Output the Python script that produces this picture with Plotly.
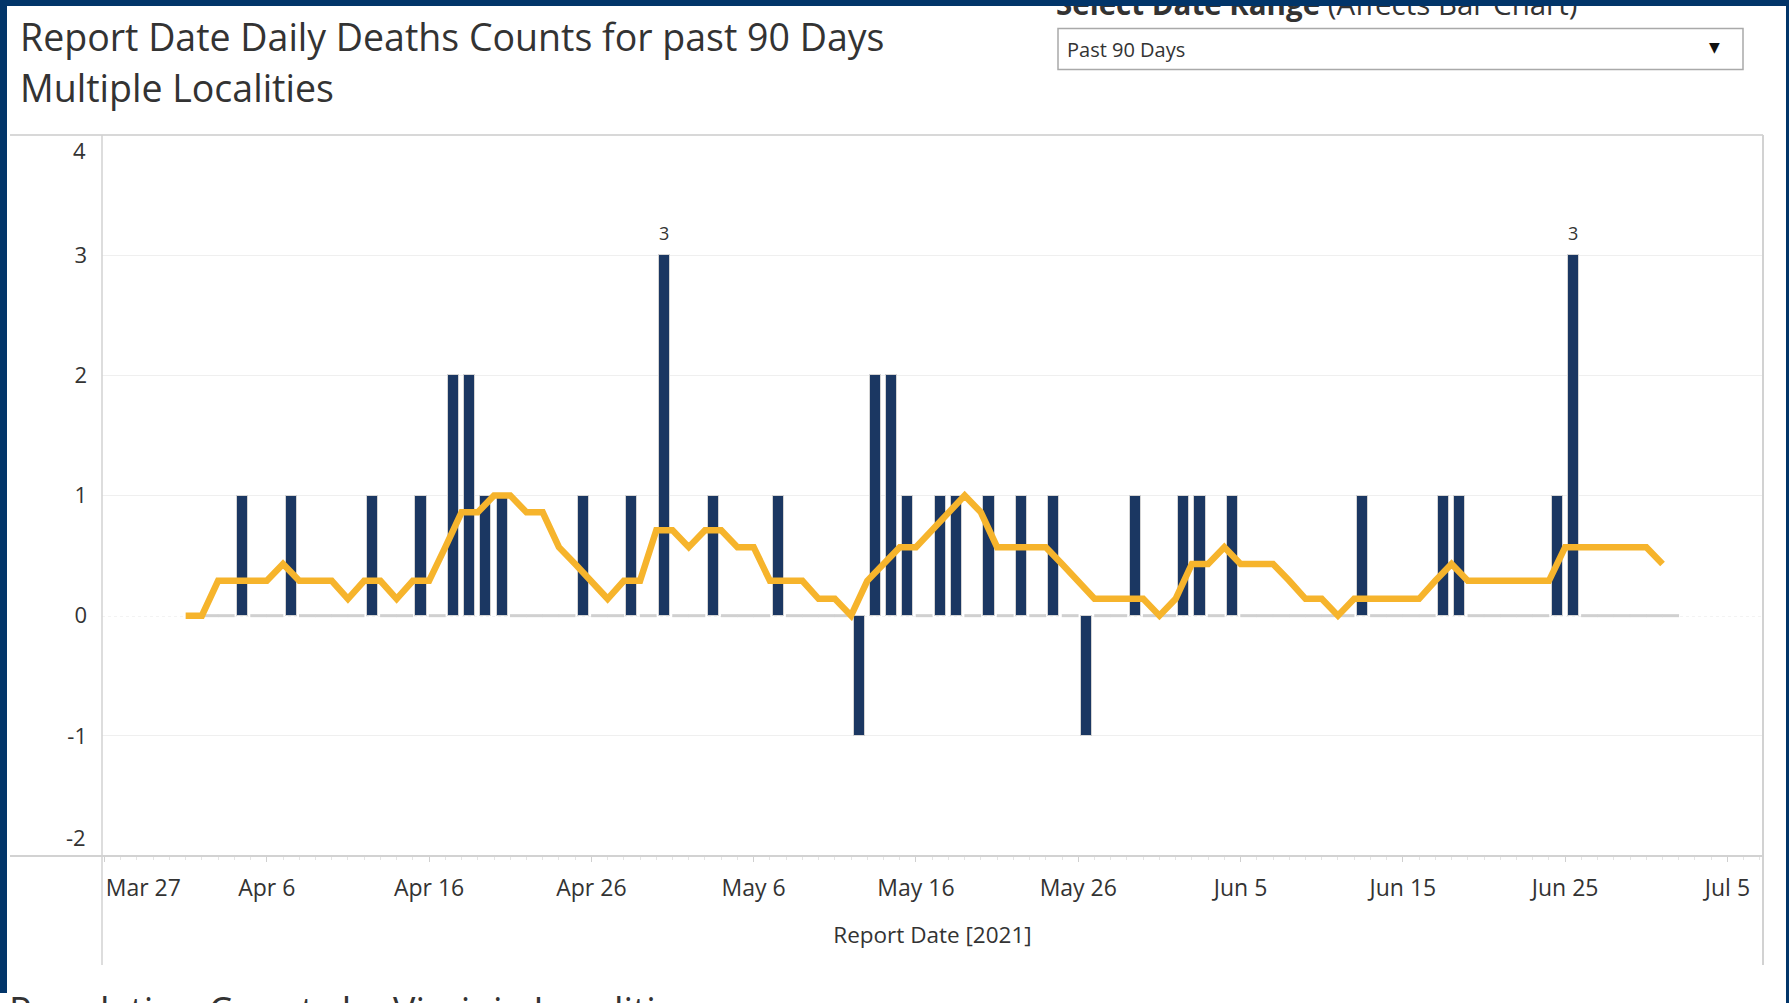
import pandas as pd
import plotly.graph_objects as go

# ---------------- data ----------------
# daily deaths by report date, starting 2021-04-02
bar_start = "2021-04-02"
deaths = [0, 0, 1, 0, 0, 1, 0, 0, 0, 0,
          1, 0, 0, 1, 0, 2, 2, 1, 1, 0,
          0, 0, 0, 1, 0, 0, 1, 0, 3, 0,
          0, 1, 0, 0, 0, 1, 0, 0, 0, 0,
          -1, 2, 2, 1, 0, 1, 1, 0, 1, 0,
          1, 0, 1, 0, -1, 0, 0, 1, 0, 0,
          1, 1, 0, 1, 0, 0, 0, 0, 0, 0,
          0, 1, 0, 0, 0, 0, 1, 1, 0, 0,
          0, 0, 0, 1, 3, 0, 0, 0, 0, 0,
          0]

# 7-day average line, starting 2021-04-01
avg_start = "2021-04-01"
avg = [0.00, 0.00, 0.29, 0.29, 0.29, 0.29, 0.43, 0.29, 0.29, 0.29,
       0.14, 0.29, 0.29, 0.14, 0.29, 0.29, 0.57, 0.86, 0.86, 1.00,
       1.00, 0.86, 0.86, 0.57, 0.43, 0.29, 0.14, 0.29, 0.29, 0.71,
       0.71, 0.57, 0.71, 0.71, 0.57, 0.57, 0.29, 0.29, 0.29, 0.14,
       0.14, 0.00, 0.29, 0.43, 0.57, 0.57, 0.71, 0.86, 1.00, 0.86,
       0.57, 0.57, 0.57, 0.57, 0.43, 0.29, 0.14, 0.14, 0.14, 0.14,
       0.00, 0.14, 0.43, 0.43, 0.57, 0.43, 0.43, 0.43, 0.29, 0.14,
       0.14, 0.00, 0.14, 0.14, 0.14, 0.14, 0.14, 0.29, 0.43, 0.29,
       0.29, 0.29, 0.29, 0.29, 0.29, 0.57, 0.57, 0.57, 0.57, 0.57,
       0.57, 0.43]

tick_dates = ["2021-03-27", "2021-04-06", "2021-04-16", "2021-04-26", "2021-05-06",
              "2021-05-16", "2021-05-26", "2021-06-05", "2021-06-15", "2021-06-25",
              "2021-07-05"]
tick_labels = ["Mar 27", "Apr 6", "Apr 16", "Apr 26", "May 6", "May 16", "May 26",
               "Jun 5", "Jun 15", "Jun 25", "Jul 5"]
y_ticks = [-2, -1, 0, 1, 2, 3, 4]
y_labels = ["-2", "-1", "0", "1", "2", "3", "4"]

title_lines = ["Report Date Daily Deaths Counts for past 90 Days", "Multiple Localities"]
x_title = "Report Date [2021]"
dropdown_label = "<b>Select Date Range</b> (Affects Bar Chart)"
dropdown_value = "Past 90 Days"
next_title = "Population Counts by Virginia Localities"

# ---------------- layout helpers ----------------
W, H = 1789, 1003
L, R, T, B = 102, 26, 135, 147
PW, PH = W - L - R, H - T - B


def xp(px):
    return (px - L) / PW


def yp(py):
    return (H - B - py) / PH


DAY = 86400000
NAVY = "#023569"
BAR = "#1B3762"
GOLD = "#F6B42C"
TXT = "#333333"
FONT = "Open Sans"

bar_dates = pd.date_range(bar_start, periods=len(deaths), freq="D")
avg_dates = pd.date_range(avg_start, periods=len(avg), freq="D")

nz_x = [d for d, v in zip(bar_dates, deaths) if v != 0]
nz_y = [v for v in deaths if v != 0]
zero_x = [d for d, v in zip(bar_dates, deaths) if v == 0]

fig = go.Figure()
fig.add_trace(go.Bar(
    x=nz_x, y=nz_y, width=0.68 * DAY, xperiod=DAY, xperiodalignment="middle",
    marker=dict(color=BAR, line=dict(color="#d4d4d4", width=1)),
    hoverinfo="x+y"))
fig.add_trace(go.Scatter(
    x=zero_x, y=[0] * len(zero_x), mode="markers", xperiod=DAY, xperiodalignment="middle",
    marker=dict(symbol="line-ew", size=12, line=dict(color="#d0d0d0", width=3)),
    hoverinfo="skip"))
fig.add_trace(go.Scatter(
    x=avg_dates, y=avg, mode="lines",
    line=dict(color=GOLD, width=6.5), hoverinfo="x+y"))

# labels on the max bars
peak = max(deaths)
annotations = []
for d, v in zip(bar_dates, deaths):
    if v == peak:
        annotations.append(dict(
            x=d + pd.Timedelta(hours=12), y=v, xref="x", yref="y", text=str(v),
            showarrow=False, yanchor="bottom", yshift=8,
            font=dict(family=FONT, size=18, color=TXT)))

# end labels of the value axis sit inside the pane, as in the original
axis_ticktext = list(y_labels)
for i, (val, lab) in enumerate(zip(y_ticks, y_labels)):
    if val in (min(y_ticks), max(y_ticks)):
        axis_ticktext[i] = ""
        annotations.append(dict(
            x=xp(L - 14), y=val, xref="paper", yref="y", text=lab,
            xanchor="right", yanchor="middle", showarrow=False,
            yshift=-15 if val == max(y_ticks) else 19,
            font=dict(family=FONT, size=22, color=TXT)))

# titles and other page text
annotations += [
    dict(x=xp(18), y=yp(36), xref="paper", yref="paper", text=title_lines[0],
         xanchor="left", yanchor="middle", showarrow=False,
         font=dict(family=FONT, size=37.5, color=TXT)),
    dict(x=xp(18), y=yp(87), xref="paper", yref="paper", text=title_lines[1],
         xanchor="left", yanchor="middle", showarrow=False,
         font=dict(family=FONT, size=37.5, color=TXT)),
    dict(x=xp(1054), y=yp(3), xref="paper", yref="paper", text=dropdown_label,
         xanchor="left", yanchor="middle", showarrow=False,
         font=dict(family=FONT, size=29.5, color=TXT)),
    dict(x=xp(1065), y=yp(49), xref="paper", yref="paper", text=dropdown_value,
         xanchor="left", yanchor="middle", showarrow=False,
         font=dict(family=FONT, size=20, color=TXT)),
    dict(x=xp(1714), y=yp(47), xref="paper", yref="paper", text="▼",
         xanchor="center", yanchor="middle", showarrow=False,
         font=dict(family="DejaVu Sans", size=14, color="#111111")),
    dict(x=xp(7), y=yp(983), xref="paper", yref="paper", text=next_title,
         xanchor="left", yanchor="top", showarrow=False,
         font=dict(family=FONT, size=37.5, color=TXT)),
    # top navy frame strip (drawn over the clipped text)
    dict(x=xp(0), y=yp(0), xref="paper", yref="paper", text=" ",
         xanchor="left", yanchor="top", showarrow=False, width=W, height=6,
         bgcolor=NAVY, borderpad=0, borderwidth=0, font=dict(size=1)),
]

line_c = "#d2d2d2"
shapes = [
    # zero dotted line
    dict(type="line", xref="paper", yref="y", x0=0, x1=1, y0=0, y1=0,
         line=dict(color="#b5b5b5", width=1, dash="dot"), layer="between"),
    # frame lines of the pane
    dict(type="line", xref="paper", yref="paper", x0=xp(10), x1=xp(1763), y0=yp(135), y1=yp(135),
         line=dict(color="#d8d8d8", width=2)),
    dict(type="line", xref="paper", yref="paper", x0=xp(10), x1=xp(1763), y0=yp(856), y1=yp(856),
         line=dict(color=line_c, width=2)),
    dict(type="line", xref="paper", yref="paper", x0=xp(102), x1=xp(102), y0=yp(135), y1=yp(965),
         line=dict(color=line_c, width=1.5)),
    dict(type="line", xref="paper", yref="paper", x0=xp(1763), x1=xp(1763), y0=yp(135), y1=yp(965),
         line=dict(color=line_c, width=2)),
    # dropdown box
    dict(type="rect", xref="paper", yref="paper", x0=xp(1058), x1=xp(1743), y0=yp(28.5), y1=yp(69.5),
         line=dict(color="#a9a9a9", width=1.5), fillcolor="white", layer="below"),
    # navy frame sides
    dict(type="rect", xref="paper", yref="paper", x0=xp(0), x1=xp(7), y0=yp(0), y1=yp(993),
         line=dict(width=0), fillcolor=NAVY),
    dict(type="rect", xref="paper", yref="paper", x0=xp(1786), x1=xp(1789), y0=yp(0), y1=yp(1003),
         line=dict(width=0), fillcolor=NAVY),
]

ticktext = list(tick_labels)
ticktext[0] = "\u00a0" * 13 + ticktext[0]

fig.update_layout(
    width=W, height=H,
    margin=dict(l=L, r=R, t=T, b=B, pad=0),
    paper_bgcolor="white", plot_bgcolor="white",
    showlegend=False, bargap=0,
    font=dict(family=FONT, color=TXT),
    annotations=annotations, shapes=shapes,
    xaxis=dict(
        type="date",
        range=["2021-03-26 20:18", "2021-07-07 04:34"],
        tickvals=tick_dates, ticktext=ticktext,
        ticks="outside", ticklen=5, tickcolor="#d0d0d0", tickwidth=1,
        ticklabelstandoff=6,
        minor=dict(dtick=DAY, ticks="outside", ticklen=3, tickcolor="#e4e4e4", showgrid=False),
        showgrid=False, zeroline=False, showline=False,
        tickfont=dict(family=FONT, size=23, color=TXT),
        title=dict(text=x_title, standoff=25, font=dict(family=FONT, size=22.5, color=TXT)),
    ),
    yaxis=dict(
        range=[-2, 4], tickvals=y_ticks, ticktext=axis_ticktext,
        ticks="", ticklabelstandoff=14,
        showgrid=True, gridcolor="#efefef", gridwidth=1,
        zeroline=True, zerolinecolor="white", zerolinewidth=1,
        showline=False,
        tickfont=dict(family=FONT, size=22, color=TXT),
    ),
)

fig.write_html(
    "out.html",
    config={"displayModeBar": False},
    post_script="document.body.style.margin='0px';document.body.style.overflow='hidden';",
)
